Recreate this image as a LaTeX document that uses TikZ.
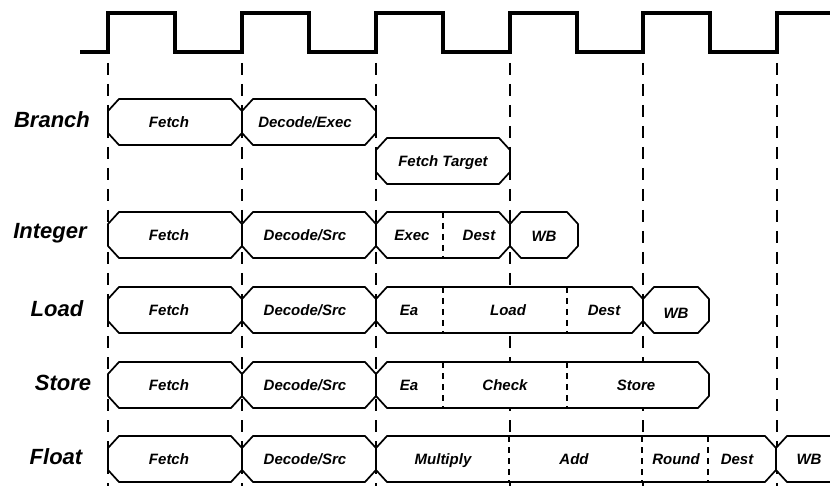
\documentclass[tikz,border=0pt]{standalone}
\usepackage{fontspec}
\setmainfont{Liberation Sans}
\usetikzlibrary{calc}

\tikzset{
  clock/.style={line width=4.5pt},
  tick/.style={line width=1.5pt, dash pattern=on 12pt off 9pt},
  divider/.style={line width=1.3pt, dash pattern=on 6pt off 5pt},
  stage/.style={line width=1.7pt, fill=white},
  rowlabel/.style={font=\fontsize{22}{25}\selectfont\bfseries\itshape},
  steplabel/.style={font=\fontsize{15}{18}\selectfont\bfseries\itshape,
    text height=1.4ex, text depth=0pt, yshift=-1.5pt},
}

% x0, x1, row centre
\newcommand{\pipestage}[3]{%
  \filldraw[stage] (#1+11,#3-23) -- (#2-11,#3-23) -- (#2,#3-11) -- (#2,#3+11)
    -- (#2-11,#3+23) -- (#1+11,#3+23) -- (#1,#3+11) -- (#1,#3-11) -- cycle;}
\newcommand{\pipesplit}[2]{%
  \draw[divider] (#1,#2-23) -- (#1,#2+23);}

\begin{document}
\begin{tikzpicture}[x=1pt, y=-1pt]

    \useasboundingbox (0,0) rectangle (830,486);
    \clip (0,0) rectangle (830,486);

    % clock
    \draw[clock] (80,52) foreach \r in {108,242,376,510,643} {
        -- (\r,52) -- (\r,13) -- (\r+67,13) -- (\r+67,52) }
        -- (777,52) -- (777,13) -- (840,13);

    \foreach \x in {108,242,376,510,643,777}
        \draw[tick] (\x,63) -- (\x,490);

    % Branch
    \node[rowlabel] (lbranch) at (52,120) {Branch};
    \pipestage{108}{242}{122}
    \pipestage{242}{376}{122}
    \node[steplabel] (brfetch) at (169,122) {Fetch};
    \node[steplabel] (brdecode) at (305,122) {Decode/Exec};

    \pipestage{376}{510}{161}
    \node[steplabel] (brtarget) at (443,161) {Fetch Target};

    % Integer
    \node[rowlabel] (linteger) at (50,233) {Integer};
    \pipestage{108}{242}{235}
    \pipestage{242}{376}{235}
    \pipestage{376}{510}{235}
    \pipestage{510}{578}{235}
    \pipesplit{443}{235}
    \node[steplabel] (infetch) at (169,235) {Fetch};
    \node[steplabel] (indecode) at (305,235) {Decode/Src};
    \node[steplabel] (inexec) at (412,235) {Exec};
    \node[steplabel] (indest) at (479,235) {Dest};
    \node[steplabel] (inwb) at (544,236) {WB};

    % Load
    \node[rowlabel] (lload) at (57,309) {Load};
    \pipestage{108}{242}{310}
    \pipestage{242}{376}{310}
    \pipestage{376}{643}{310}
    \pipestage{643}{709}{310}
    \pipesplit{443}{310}
    \pipesplit{567}{310}
    \node[steplabel] (ldfetch) at (169,310) {Fetch};
    \node[steplabel] (lddecode) at (305,310) {Decode/Src};
    \node[steplabel] (ldea) at (409,310) {Ea};
    \node[steplabel] (ldload) at (508,310) {Load};
    \node[steplabel] (lddest) at (604,310) {Dest};
    \node[steplabel] (ldwb) at (676,313) {WB};

    % Store
    \node[rowlabel] (lstore) at (63,383) {Store};
    \pipestage{108}{242}{385}
    \pipestage{242}{376}{385}
    \pipestage{376}{709}{385}
    \pipesplit{443}{385}
    \pipesplit{567}{385}
    \node[steplabel] (stfetch) at (169,385) {Fetch};
    \node[steplabel] (stdecode) at (305,385) {Decode/Src};
    \node[steplabel] (stea) at (409,385) {Ea};
    \node[steplabel] (stcheck) at (505,385) {Check};
    \node[steplabel] (ststore) at (636,385) {Store};

    % Float
    \node[rowlabel] (lfloat) at (56,457) {Float};
    \pipestage{108}{242}{459}
    \pipestage{242}{376}{459}
    \pipestage{376}{776}{459}
    \pipestage{776}{843}{459}
    \pipesplit{509}{459}
    \pipesplit{642}{459}
    \pipesplit{708}{459}
    \node[steplabel] (flfetch) at (169,459) {Fetch};
    \node[steplabel] (fldecode) at (305,459) {Decode/Src};
    \node[steplabel] (flmul) at (443,459) {Multiply};
    \node[steplabel] (fladd) at (574,459) {Add};
    \node[steplabel] (flround) at (676,459) {Round};
    \node[steplabel] (fldest) at (737,459) {Dest};
    \node[steplabel] (flwb) at (809,459) {WB};

\end{tikzpicture}
\end{document}
